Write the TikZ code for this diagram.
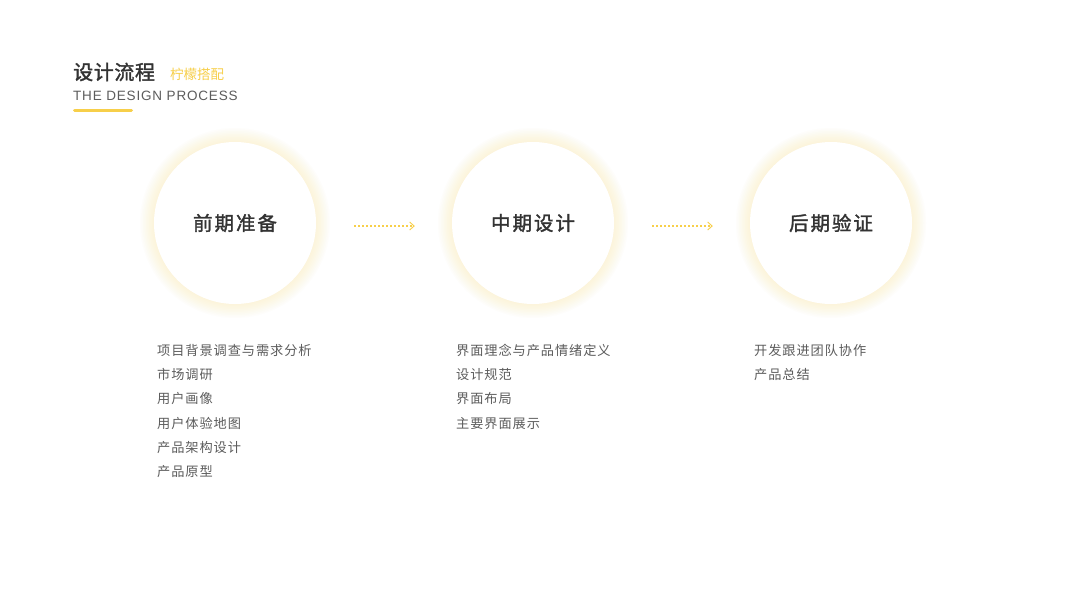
\documentclass[tikz,border=0pt]{standalone}
\usepackage{fontspec}
\usepackage{tikz}
\usetikzlibrary{arrows.meta}
\setmainfont{Noto Sans CJK SC}
\newfontfamily\cnfont{Noto Sans CJK SC}
\newfontfamily\cntitle[LetterSpace=3,FakeBold=1.6]{Noto Sans CJK SC}
\newfontfamily\cnlist[LetterSpace=7]{Noto Sans CJK SC}
\newfontfamily\cnhead[LetterSpace=10,FakeBold=1.6]{Noto Sans CJK SC}
\newfontfamily\ensub[LetterSpace=6]{Liberation Sans}
\definecolor{lemon}{HTML}{F7CF4A}
\definecolor{glowc}{HTML}{FCE49A}
\definecolor{inkdark}{HTML}{333333}
\definecolor{inkgray}{HTML}{5C5C5C}
\tikzset{
  stage/.style={circle, fill=white, minimum size=162pt, inner sep=0pt,
    font=\cnhead\fontsize{19.5}{19.5}\selectfont, text=inkdark},
  item/.style={anchor=west, inner sep=0pt, text=inkgray,
    font=\cnlist\fontsize{13.2}{13.2}\selectfont},
  flow/.style={lemon, line width=1.1pt, dash pattern=on 1.6pt off 2.4pt,
    -{Straight Barb[length=4.5pt,width=8pt,line width=0.9pt]},
    shorten <=38pt, shorten >=37pt}
}
\begin{document}
\begin{tikzpicture}[x=1pt,y=1pt,yscale=-1,xscale=1]
  \useasboundingbox[fill=white] (0,0) rectangle (1067,600);
  % Title
  \node [anchor=west, inner sep=0pt, text=inkdark, font=\cntitle\fontsize{20}{20}\selectfont] (title) at (73,72) {设计流程};
  \node [anchor=west, inner sep=0pt, text=lemon, font=\cnfont\fontsize{13.5}{13.5}\selectfont] (tag) at (170,74) {柠檬搭配};
  \node [anchor=west, inner sep=0pt, text=inkgray, font=\ensub\fontsize{13.5}{13.5}\selectfont] (subtitle) at (73,96) {THE DESIGN PROCESS};
  \draw [lemon, line width=3pt, line cap=round] (74.5,110) -- (131.5,110);

  % glow around the circles
  \foreach \cx in {235,533,831}{
    \foreach \r in {81.5,83,...,95}
      \fill [glowc, fill opacity=0.04] (\cx,223) circle (\r);
  }

  % Stages
  \node [stage] (pre) at (235,223) {前期准备};
  \node [stage] (mid) at (533,223) {中期设计};
  \node [stage] (post) at (831,223) {后期验证};

  \draw [flow] ([yshift=3pt]pre.east) -- ([yshift=3pt]mid.west);
  \draw [flow] ([yshift=3pt]mid.east) -- ([yshift=3pt]post.west);

  % Items
  \node [item] (pre1) at (157,350) {项目背景调查与需求分析};
  \node [item] (pre2) at (157,374.4) {市场调研};
  \node [item] (pre3) at (157,398.8) {用户画像};
  \node [item] (pre4) at (157,423.2) {用户体验地图};
  \node [item] (pre5) at (157,447.6) {产品架构设计};
  \node [item] (pre6) at (157,472) {产品原型};

  \node [item] (mid1) at (456,350) {界面理念与产品情绪定义};
  \node [item] (mid2) at (456,374.4) {设计规范};
  \node [item] (mid3) at (456,398.8) {界面布局};
  \node [item] (mid4) at (456,423.2) {主要界面展示};

  \node [item] (post1) at (754,350) {开发跟进团队协作};
  \node [item] (post2) at (754,374.4) {产品总结};
\end{tikzpicture}
\end{document}
